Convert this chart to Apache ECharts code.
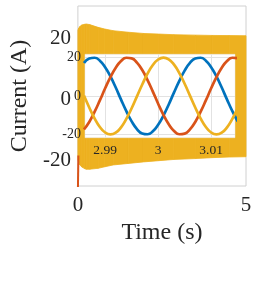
<!DOCTYPE html>
<html><head><meta charset="utf-8">
<script src="https://cdn.jsdelivr.net/npm/echarts@6/dist/echarts.min.js"></script>
<style>html,body{margin:0;padding:0;background:#fff}#c{width:269px;height:292px}</style>
</head><body><div id="c"></div>
<script>
// Main plot: envelope of the (dense) three-phase current band, 0..5 s
const bandTime  = [0, 0.03, 0.06, 0.12, 0.2, 0.25, 0.35, 0.6, 0.8, 1.05, 1.5, 1.95, 2.4, 2.85, 3.5, 4, 4.5, 5];
const bandUpper = [22.6, 23.3, 23.8, 24.3, 24.5, 24.6, 24.4, 23.5, 22.95, 22.4, 21.9, 21.5, 21.3, 21.1, 20.95, 20.85, 20.8, 20.75];
const bandLower = [-19.8, -20.8, -21.6, -22.3, -22.8, -23.0, -23.0, -22.7, -22.2, -21.6, -21.1, -20.6, -20.2, -19.8, -19.5, -19.2, -19.0, -18.9];
// start-up spike of phase B at t = 0
const spikeTime  = [0, 0.015];
const spikeValue = [-30, -18.5];

// Inset: zoom around t = 3 s
const insetTime = [2.986, 2.987, 2.988, 2.989, 2.990, 2.991, 2.992, 2.993, 2.994, 2.995,
                   2.996, 2.997, 2.998, 2.999, 3.000, 3.001, 3.002, 3.003, 3.004, 3.005,
                   3.006, 3.007, 3.008, 3.009, 3.010, 3.011, 3.012, 3.013, 3.014, 3.015];
const phaseA = [17.2, 19.5, 19.9, 18.4, 15.0, 10.2, 4.4, -1.9, -7.9, -13.2,
                -17.2, -19.5, -19.9, -18.4, -15.0, -10.2, -4.4, 1.9, 7.9, 13.2,
                17.2, 19.5, 19.9, 18.4, 15.0, 10.2, 4.4, -1.9, -7.9, -13.2];
const phaseB = [-17.4, -13.5, -8.3, -2.3, 4.0, 9.8, 14.7, 18.2, 19.9, 19.6,
                17.4, 13.5, 8.3, 2.3, -4.0, -9.8, -14.7, -18.2, -19.9, -19.6,
                -17.4, -13.5, -8.3, -2.3, 4.0, 9.8, 14.7, 18.2, 19.9, 19.6];
const phaseC = [0.2, -6.0, -11.6, -16.1, -19.0, -20.0, -19.1, -16.3, -11.9, -6.4,
                -0.2, 6.0, 11.6, 16.1, 19.0, 20.0, 19.1, 16.3, 11.9, 6.4,
                0.2, -6.0, -11.6, -16.1, -19.0, -20.0, -19.1, -16.3, -11.9, -6.4];

const mainXTicks = [0, 5];
const mainYTicks = [-20, 0, 20];
const insetXTicks = [2.99, 3, 3.01];
const insetYTicks = [-20, 0, 20];

const BLUE = '#0072BD', ORANGE = '#D95319', YELLOW = '#EDB120';
const FONT = 'Liberation Serif', TXT = '#262626';

const pair = (xs, ys) => xs.map((x, i) => [x, ys[i]]);

function renderBand(params, api) {
  const i = params.dataIndexInside;
  if (i >= params.dataInsideLength - 1) return null;
  const a = api.coord([api.value(0, i), api.value(1, i)]);
  const b = api.coord([api.value(0, i + 1), api.value(1, i + 1)]);
  const c = api.coord([api.value(0, i + 1), api.value(2, i + 1)]);
  const d = api.coord([api.value(0, i), api.value(2, i)]);
  return {type: 'polygon', shape: {points: [a, b, c, d]},
          style: {fill: YELLOW, stroke: YELLOW, lineWidth: 0.8}};
}

const chart = echarts.init(document.getElementById('c'), null, {renderer: 'canvas'});
chart.setOption({
  animation: false,
  backgroundColor: '#fff',
  grid: [
    {left: 61, right: 23, top: 6, bottom: 106, show: true, backgroundColor: 'transparent',
     borderColor: '#d0d0d0', borderWidth: 1, z: 0},
    {left: 85, top: 54.3, width: 150, height: 83.4, show: true, backgroundColor: '#ffffff',
     borderColor: '#e6e6e6', borderWidth: 0.5, z: 5}
  ],
  xAxis: [
    {type: 'value', gridIndex: 0, min: 0, max: 5,
     name: 'Time (s)', nameLocation: 'middle', nameGap: 35,
     nameTextStyle: {fontFamily: FONT, fontSize: 24, color: TXT},
     axisLine: {show: false}, axisTick: {show: false, customValues: mainXTicks},
     splitLine: {show: false},
     axisLabel: {customValues: mainXTicks, fontFamily: FONT, fontSize: 21, color: TXT, margin: 9}},
    {type: 'value', gridIndex: 1, min: 2.9862, max: 3.0145, z: 6,
     axisLine: {show: false}, axisTick: {show: false, customValues: insetXTicks},
     splitLine: {show: true, lineStyle: {color: '#e2e2e2', width: 1}},
     axisLabel: {customValues: insetXTicks, fontFamily: FONT, fontSize: 13.5, color: TXT, margin: 6}}
  ],
  yAxis: [
    {type: 'value', gridIndex: 0, min: -28.5, max: 30.5,
     name: 'Current (A)', nameLocation: 'middle', nameGap: 43,
     nameTextStyle: {fontFamily: FONT, fontSize: 24, color: TXT},
     axisLine: {show: false}, axisTick: {show: false, customValues: mainYTicks},
     splitLine: {show: false},
     axisLabel: {customValues: mainYTicks, fontFamily: FONT, fontSize: 21, color: TXT, margin: 7}},
    {type: 'value', gridIndex: 1, min: -21.7, max: 21.7, z: 6,
     axisLine: {show: false}, axisTick: {show: false, customValues: insetYTicks},
     splitLine: {show: true, lineStyle: {color: '#e2e2e2', width: 1}},
     axisLabel: {customValues: insetYTicks, fontFamily: FONT, fontSize: 14, color: TXT, margin: 4}}
  ],
  series: [
    {type: 'custom', xAxisIndex: 0, yAxisIndex: 0, renderItem: renderBand,
     data: bandTime.map((t, i) => [t, bandUpper[i], bandLower[i]]),
     encode: {x: 0, y: [1, 2]}, z: 2, silent: true, clip: true},
    {type: 'line', xAxisIndex: 0, yAxisIndex: 0, data: pair(spikeTime, spikeValue),
     symbol: 'none', lineStyle: {width: 2, color: ORANGE}, z: 3, silent: true},
    {type: 'line', xAxisIndex: 1, yAxisIndex: 1, data: pair(insetTime, phaseA), smooth: true,
     symbol: 'none', lineStyle: {width: 2.7, color: BLUE}, z: 10, silent: true},
    {type: 'line', xAxisIndex: 1, yAxisIndex: 1, data: pair(insetTime, phaseB), smooth: true,
     symbol: 'none', lineStyle: {width: 2.7, color: ORANGE}, z: 10, silent: true},
    {type: 'line', xAxisIndex: 1, yAxisIndex: 1, data: pair(insetTime, phaseC), smooth: true,
     symbol: 'none', lineStyle: {width: 2.7, color: YELLOW}, z: 10, silent: true}
  ]
});
</script></body></html>
